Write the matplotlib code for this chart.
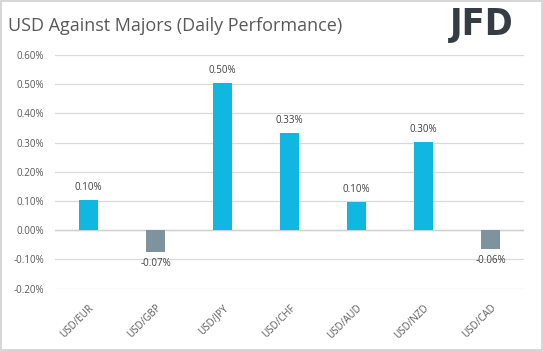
import matplotlib.pyplot as plt
from matplotlib.patches import Rectangle

pairs = ['USD/EUR', 'USD/GBP', 'USD/JPY', 'USD/CHF', 'USD/AUD', 'USD/NZD', 'USD/CAD']
change = [0.103, -0.074, 0.503, 0.332, 0.096, 0.301, -0.064]
labels = ['0.10%', '-0.07%', '0.50%', '0.33%', '0.10%', '0.30%', '-0.06%']
yticks = [-0.2, -0.1, 0.0, 0.1, 0.2, 0.3, 0.4, 0.5, 0.6]

pos_col = '#10B7E0'
neg_col = '#7F939E'
txt_col = '#595959'
grid_col = '#D9D9D9'

plt.rcParams['font.family'] = ['Open Sans', 'DejaVu Sans']

fig = plt.figure(figsize=(5.43, 3.51), dpi=100)
fig.patches.append(Rectangle((0.002, 0.002), 0.996, 0.994, transform=fig.transFigure,
                             fill=False, edgecolor='#D0D0D0', linewidth=1.2))

ax = fig.add_axes([55 / 543, 1 - 288.7 / 351, 469 / 543, (288.7 - 54.8) / 351])

x = range(len(pairs))
colors = [pos_col if v >= 0 else neg_col for v in change]
ax.bar(x, change, width=0.285, color=colors, zorder=3)

for i, v in enumerate(change):
    if v >= 0:
        ax.text(i, v + 0.025, labels[i], ha='center', va='bottom', fontsize=7, color='#404040')
    else:
        ax.text(i, v - 0.02, labels[i], ha='center', va='top', fontsize=7, color='#404040')

ax.set_xlim(-0.5, len(pairs) - 0.5)
ax.set_ylim(-0.2, 0.6)
ax.set_yticks(yticks)
ax.set_yticklabels(['%.2f%%' % t for t in yticks], fontsize=7, color=txt_col)
ax.set_xticks(list(x))
ax.set_xticklabels(pairs, rotation=45, ha='right', rotation_mode='anchor', fontsize=7, color=txt_col)
ax.tick_params(axis='both', length=0, pad=8)
ax.tick_params(axis='x', pad=10)
ax.grid(axis='y', color=grid_col, linewidth=0.9, zorder=0)
ax.axhline(0, color='#D0D0D0', linewidth=1.0, zorder=2)
for s in ax.spines.values():
    s.set_visible(False)

fig.text(8 / 543, 1 - 26 / 351, 'USD Against Majors (Daily Performance)', fontsize=13,
         color=txt_col, va='center', ha='left')
fig.text(514 / 543, 1 - 25 / 351, 'JFD', fontsize=27, fontweight='bold', fontstretch='condensed',
         color='#353C44', va='center', ha='right', family=['Liberation Sans Narrow', 'DejaVu Sans'])

fig.savefig('out.png', dpi=100)
